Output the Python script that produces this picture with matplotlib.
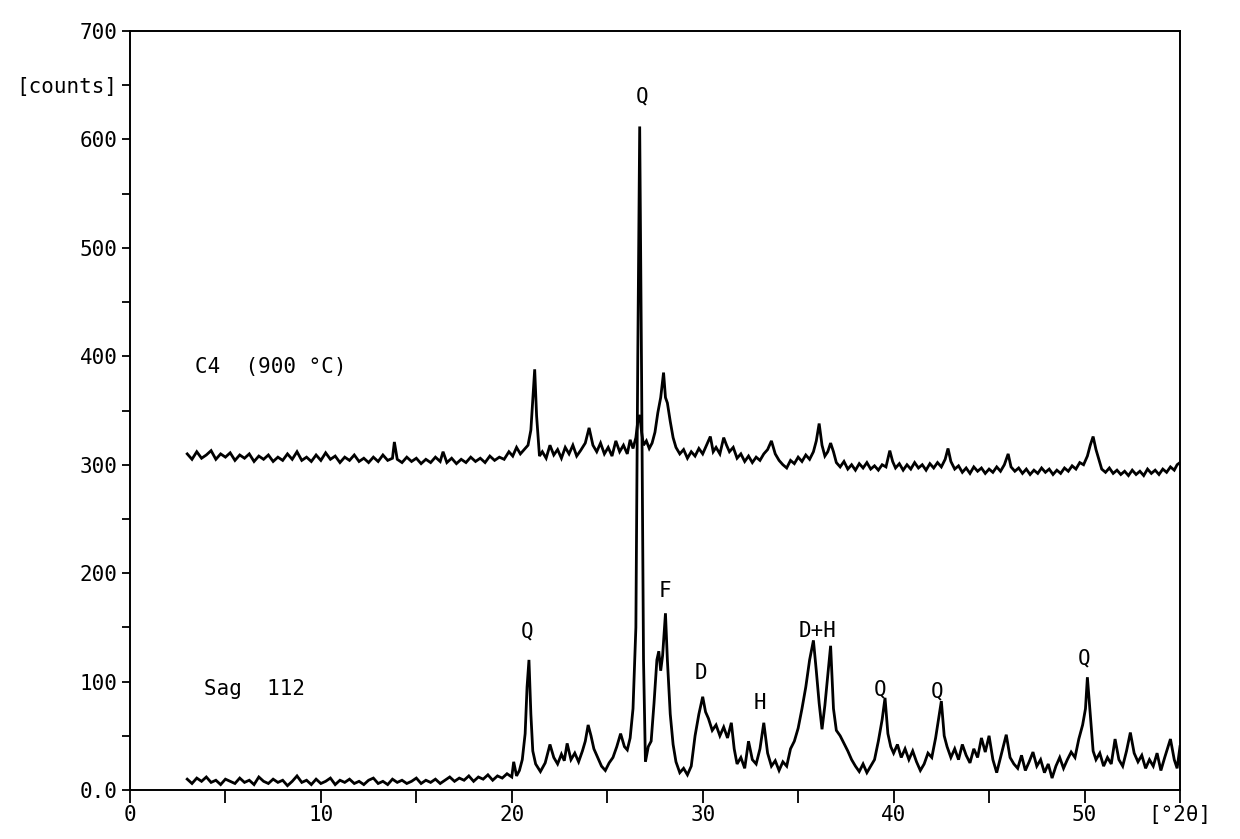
import matplotlib
matplotlib.use("Agg")
import matplotlib.pyplot as plt

# ---- data ----
sag_x = [3.0, 3.25, 3.5, 3.75, 4.0, 4.25, 4.5, 4.75, 5.0, 5.25, 5.5, 5.75, 6.0, 6.25, 6.5, 6.75,
         7.0, 7.25, 7.5, 7.75, 8.0, 8.25, 8.5, 8.75, 9.0, 9.25, 9.5, 9.75, 10.0, 10.25, 10.5, 10.75,
         11.0, 11.25, 11.5, 11.75, 12.0, 12.25, 12.5, 12.75, 13.0, 13.25, 13.5, 13.75, 14.0, 14.25,
         14.5, 14.75, 15.0, 15.25, 15.5, 15.75, 16.0, 16.25, 16.5, 16.75, 17.0, 17.25, 17.5, 17.75,
         18.0, 18.25, 18.5, 18.75, 19.0, 19.25, 19.5, 19.75, 20.0, 20.1, 20.25, 20.4, 20.55, 20.7,
         20.8, 20.9, 21.0, 21.1, 21.25, 21.5, 21.75, 22.0, 22.2, 22.4, 22.6, 22.75, 22.9, 23.1, 23.3,
         23.5, 23.7, 23.85, 24.0, 24.15, 24.3, 24.5, 24.7, 24.9, 25.1, 25.3, 25.5, 25.7, 25.9, 26.05,
         26.2, 26.35, 26.5, 26.6, 26.7, 26.8, 26.9, 27.0, 27.15, 27.3, 27.45, 27.6, 27.7, 27.8, 27.9,
         28.0, 28.05, 28.15, 28.3, 28.45, 28.6, 28.8, 29.0, 29.2, 29.4, 29.6, 29.8, 30.0, 30.15, 30.3,
         30.5, 30.7, 30.9, 31.1, 31.3, 31.5, 31.65, 31.8, 32.0, 32.2, 32.4, 32.6, 32.8, 33.0, 33.2,
         33.4, 33.6, 33.8, 34.0, 34.2, 34.4, 34.6, 34.8, 35.0, 35.2, 35.4, 35.6, 35.8, 35.95, 36.1,
         36.25, 36.4, 36.55, 36.7, 36.85, 37.0, 37.2, 37.4, 37.6, 37.8, 38.0, 38.2, 38.4, 38.6, 38.8,
         39.0, 39.2, 39.4, 39.55, 39.7, 39.85, 40.0, 40.2, 40.4, 40.6, 40.8, 41.0, 41.2, 41.4, 41.6,
         41.8, 42.0, 42.2, 42.35, 42.5, 42.65, 42.8, 43.0, 43.2, 43.4, 43.6, 43.8, 44.0, 44.2, 44.4,
         44.6, 44.8, 45.0, 45.2, 45.4, 45.6, 45.9, 46.1, 46.3, 46.5, 46.7, 46.9, 47.1, 47.3, 47.5,
         47.7, 47.9, 48.1, 48.3, 48.5, 48.7, 48.9, 49.1, 49.3, 49.5, 49.7, 49.9, 50.05, 50.15, 50.3,
         50.45, 50.6, 50.8, 51.0, 51.2, 51.4, 51.6, 51.8, 52.0, 52.2, 52.4, 52.6, 52.8, 53.0, 53.2,
         53.4, 53.6, 53.8, 54.0, 54.2, 54.5, 54.7, 54.85, 55.0]
sag_y = [10, 6, 11, 8, 12, 7, 9, 5, 10, 8, 6, 11, 7, 9, 5, 12,
         8, 6, 10, 7, 9, 4, 8, 13, 7, 9, 5, 10, 6, 8, 11, 5,
         9, 7, 10, 6, 8, 5, 9, 11, 6, 8, 5, 10, 7, 9,
         6, 8, 11, 6, 9, 7, 10, 6, 9, 12, 8, 11, 9, 13,
         8, 12, 10, 14, 9, 13, 11, 15, 12, 26, 13, 18, 28, 52,
         95, 120, 70, 36, 24, 17, 25, 42, 30, 24, 33, 27, 43, 28, 34,
         26, 36, 45, 60, 50, 38, 30, 22, 18, 25, 30, 40, 52, 40, 37,
         48, 75, 150, 400, 612, 380, 120, 26, 40, 45, 80, 120, 128, 110, 124,
         150, 163, 120, 70, 42, 26, 16, 20, 14, 22, 50, 70, 86, 72, 66,
         55, 60, 50, 58, 48, 62, 38, 24, 30, 20, 45, 28, 24, 38, 62,
         34, 22, 27, 18, 26, 22, 38, 45, 57, 75, 95, 120, 138, 110, 80,
         56, 78, 105, 133, 75, 55, 50, 43, 36, 28, 22, 17, 24, 16, 22,
         28, 45, 65, 85, 52, 40, 34, 42, 30, 38, 28, 36, 26, 18, 24,
         34, 30, 48, 65, 82, 50, 40, 30, 38, 28, 42, 32, 25, 38, 30,
         48, 35, 50, 28, 16, 30, 51, 30, 24, 20, 32, 18, 26, 35, 22,
         28, 16, 24, 11, 22, 30, 20, 28, 35, 30, 47, 60, 75, 104, 70,
         36, 28, 34, 22, 30, 24, 47, 28, 22, 36, 53, 34, 26, 32, 20,
         28, 22, 34, 18, 30, 47, 28, 20, 40]

c4_x = [3.0, 3.25, 3.5, 3.75, 4.0, 4.25, 4.5, 4.75, 5.0, 5.25, 5.5, 5.75, 6.0, 6.25, 6.5, 6.75,
        7.0, 7.25, 7.5, 7.75, 8.0, 8.25, 8.5, 8.75, 9.0, 9.25, 9.5, 9.75, 10.0, 10.25, 10.5, 10.75,
        11.0, 11.25, 11.5, 11.75, 12.0, 12.25, 12.5, 12.75, 13.0, 13.25, 13.5, 13.75, 13.85, 14.0,
        14.25, 14.5, 14.75, 15.0, 15.25, 15.5, 15.75, 16.0, 16.25, 16.4, 16.6, 16.85, 17.1, 17.35,
        17.6, 17.85, 18.1, 18.35, 18.6, 18.85, 19.1, 19.35, 19.6, 19.85, 20.05, 20.25, 20.45, 20.65,
        20.85, 21.0, 21.1, 21.2, 21.3, 21.45, 21.6, 21.8, 22.0, 22.2, 22.4, 22.6, 22.8, 23.0, 23.2,
        23.4, 23.6, 23.85, 24.05, 24.25, 24.45, 24.65, 24.85, 25.05, 25.25, 25.45, 25.65, 25.85,
        26.05, 26.2, 26.35, 26.5, 26.6, 26.7, 26.8, 26.9, 27.05, 27.2, 27.35, 27.5, 27.65, 27.8,
        27.95, 28.05, 28.15, 28.3, 28.45, 28.6, 28.8, 29.0, 29.2, 29.4, 29.6, 29.8, 30.0, 30.2,
        30.4, 30.55, 30.7, 30.9, 31.1, 31.25, 31.4, 31.6, 31.8, 32.0, 32.2, 32.4, 32.6, 32.8, 33.0,
        33.2, 33.4, 33.6, 33.8, 34.0, 34.2, 34.4, 34.6, 34.8, 35.0, 35.2, 35.4, 35.6, 35.8, 35.95,
        36.1, 36.25, 36.4, 36.55, 36.7, 36.85, 37.0, 37.2, 37.4, 37.6, 37.8, 38.0, 38.2, 38.4, 38.6,
        38.8, 39.0, 39.2, 39.4, 39.6, 39.8, 39.95, 40.1, 40.3, 40.5, 40.7, 40.9, 41.1, 41.3, 41.5,
        41.7, 41.9, 42.1, 42.3, 42.5, 42.7, 42.85, 43.0, 43.2, 43.4, 43.6, 43.8, 44.0, 44.2, 44.4,
        44.6, 44.8, 45.0, 45.2, 45.4, 45.6, 45.8, 46.0, 46.15, 46.35, 46.55, 46.75, 46.95, 47.15,
        47.35, 47.55, 47.75, 47.95, 48.15, 48.35, 48.55, 48.75, 48.95, 49.15, 49.35, 49.55, 49.75,
        49.95, 50.15, 50.3, 50.45, 50.6, 50.75, 50.9, 51.1, 51.3, 51.5, 51.7, 51.9, 52.1, 52.3,
        52.5, 52.7, 52.9, 53.1, 53.3, 53.5, 53.7, 53.9, 54.1, 54.3, 54.5, 54.7, 54.85, 55.0]
c4_y = [310, 305, 312, 306, 309, 313, 305, 310, 307, 311, 304, 309, 306, 310, 303, 308,
        305, 309, 303, 307, 304, 310, 305, 312, 304, 307, 303, 309, 304, 311, 305, 308,
        302, 307, 304, 309, 303, 306, 302, 307, 303, 309, 304, 306, 321, 305,
        302, 307, 303, 306, 301, 305, 302, 307, 303, 312, 302, 306, 301, 305,
        302, 307, 303, 306, 302, 308, 304, 307, 305, 312, 308, 316, 310, 314,
        318, 332, 360, 388, 345, 308, 312, 306, 318, 309, 314, 306, 316, 310, 318,
        308, 313, 320, 334, 318, 312, 320, 310, 316, 308, 322, 312, 318,
        310, 323, 315, 325, 340, 346, 330, 318, 322, 315, 320, 330, 348, 362,
        385, 362, 357, 340, 325, 316, 310, 314, 306, 312, 308, 315, 310, 318,
        326, 312, 316, 310, 325, 318, 312, 316, 306, 310, 303, 308, 302, 307, 304,
        310, 314, 322, 310, 304, 300, 297, 304, 301, 307, 303, 309, 305, 312, 322,
        338, 318, 308, 312, 320, 312, 302, 298, 303, 296, 300, 295, 301, 297, 302,
        296, 299, 295, 300, 298, 313, 303, 297, 301, 295, 300, 296, 302, 297, 300,
        295, 301, 297, 302, 298, 305, 315, 303, 296, 299, 293, 297, 292, 298, 294,
        297, 292, 296, 293, 298, 294, 300, 310, 298, 294, 297, 292, 296, 291,
        295, 292, 297, 293, 296, 291, 295, 292, 297, 294, 299, 296, 302,
        300, 308, 318, 326, 314, 305, 296, 293, 297, 292, 295, 291, 294, 290,
        295, 291, 294, 290, 296, 292, 295, 291, 296, 293, 298, 295, 300, 302]

y_ticks = [0, 50, 100, 150, 200, 250, 300, 350, 400, 450, 500, 550, 600, 650, 700]
y_tick_labels = ["0.0", "", "100", "", "200", "", "300", "", "400", "", "500", "", "600", "[counts]", "700"]
x_ticks = [0, 5, 10, 15, 20, 25, 30, 35, 40, 45, 50, 55]
x_tick_labels = ["0", "", "10", "", "20", "", "30", "", "40", "", "50", "[\u00b02\u03b8]"]

series_labels = ["C4  (900 \u00b0C)", "Sag  112"]
peak_labels = ["Q", "Q", "F", "D", "H", "D+H", "Q", "Q", "Q"]
peak_label_x = [26.85, 20.8, 28.0, 29.9, 33.0, 36.0, 39.3, 42.3, 50.0]
peak_label_y = [640, 146, 184, 108, 80, 147, 93, 91, 121]

# ---- figure ----
plt.rcParams['font.family'] = ['DejaVu Sans Mono', 'DejaVu Sans']
fig = plt.figure(figsize=(12.4, 8.39), dpi=100)
ax = fig.add_axes([0.1048, 0.0584, 0.8468, 0.9046])

ax.plot(sag_x, sag_y, color='black', lw=2.0, solid_joinstyle='miter')
ax.plot(c4_x, c4_y, color='black', lw=2.0, solid_joinstyle='miter')

ax.set_xlim(0, 55)
ax.set_ylim(0, 700)
ax.set_xticks(x_ticks)
ax.set_xticklabels(x_tick_labels)
ax.set_yticks(y_ticks)
ax.set_yticklabels(y_tick_labels)
ax.tick_params(axis='x', direction='out', length=9, width=1.3, labelsize=15, pad=2,
               colors='black')
ax.tick_params(axis='y', direction='out', length=6, width=1.3, labelsize=15, pad=3,
               colors='black')
for sp in ax.spines.values():
    sp.set_linewidth(1.4)
    sp.set_color('black')

ax.text(3.4, 390, series_labels[0], fontsize=15, ha='left', va='center')
ax.text(3.9, 93, series_labels[1], fontsize=15, ha='left', va='center')
for lab, lx, ly in zip(peak_labels, peak_label_x, peak_label_y):
    ax.text(lx, ly, lab, fontsize=15, ha='center', va='center')

fig.savefig("out.png", dpi=100, facecolor='white')
